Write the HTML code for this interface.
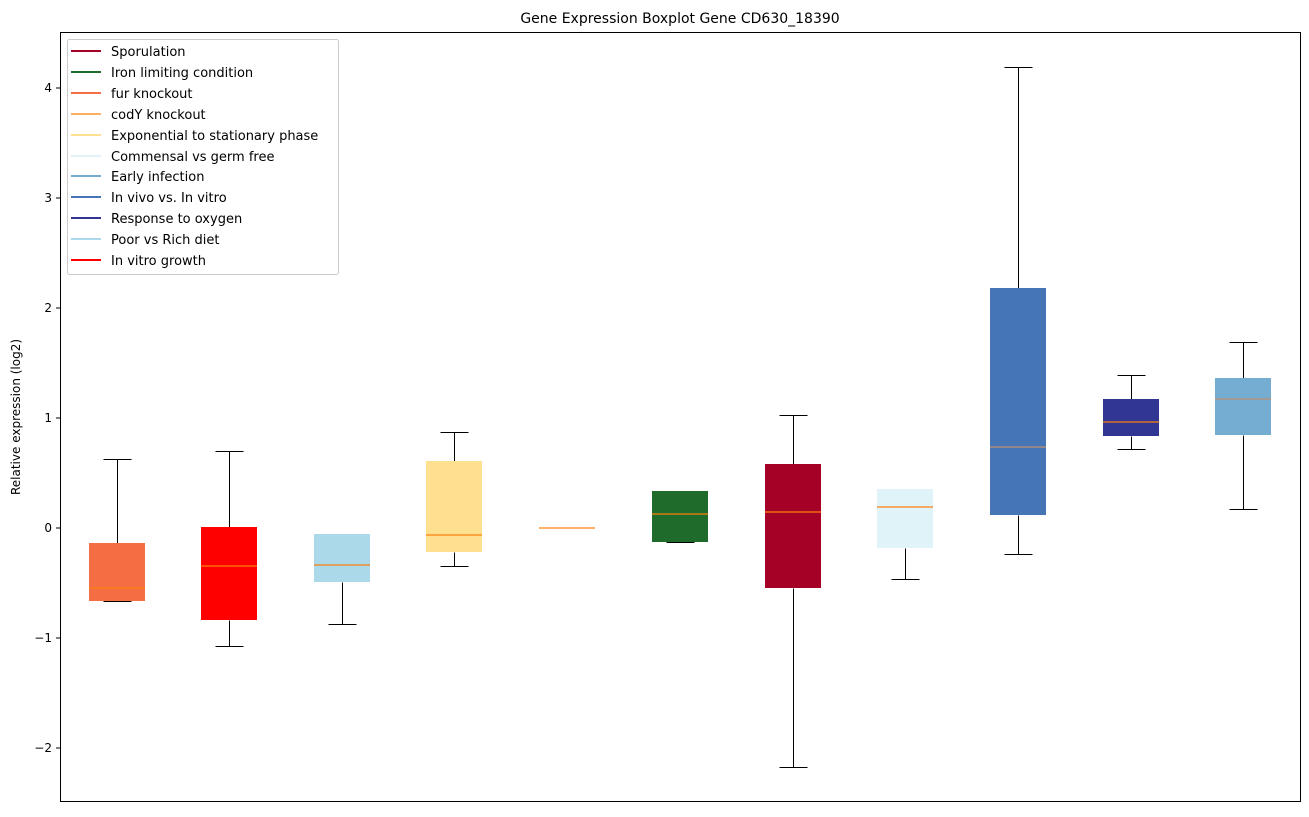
<!DOCTYPE html><html><head><style>body{margin:0;background:#fff}svg text{font-family:"DejaVu Sans","Liberation Sans",sans-serif}</style></head><body>
<svg width="1309" height="812" xmlns="http://www.w3.org/2000/svg">
<rect width="1309" height="812" fill="#fff"/>
<text x="680" y="23" font-size="14" text-anchor="middle">Gene Expression Boxplot Gene CD630_18390</text>
<g font-size="12" text-anchor="end">
<g stroke="#000"><line x1="56" x2="60" y1="88" y2="88"/><line x1="56" x2="60" y1="198" y2="198"/><line x1="56" x2="60" y1="308" y2="308"/><line x1="56" x2="60" y1="418" y2="418"/><line x1="56" x2="60" y1="528" y2="528"/><line x1="56" x2="60" y1="638" y2="638"/><line x1="56" x2="60" y1="748" y2="748"/></g>
<text x="52" y="92">4</text><text x="52" y="202">3</text><text x="52" y="312">2</text><text x="52" y="422">1</text><text x="52" y="532">0</text><text x="52" y="642">−1</text><text x="52" y="752">−2</text>
</g>
<text transform="translate(20,417) rotate(-90)" font-size="12" text-anchor="middle">Relative expression (log2)</text>
<g stroke="#000" stroke-width="1" shape-rendering="crispEdges" transform="translate(0.5,0.5)">
<path d="M117 459V543M103 459H131M103 601H131"/>
<path d="M229 451V527M229 620V646M215 451H243M215 646H243"/>
<path d="M342 582V624M328 534H356M328 624H356"/>
<path d="M454 432V461M454 552V566M440 432H468M440 566H468"/>
<path d="M666 491H694M666 542H694"/>
<path d="M793 415V464M793 588V767M779 415H807M779 767H807"/>
<path d="M905 548V579M891 489H919M891 579H919"/>
<path d="M1018 67V288M1018 515V554M1004 67H1032M1004 554H1032"/>
<path d="M1131 375V399M1131 436V449M1117 375H1145M1117 449H1145"/>
<path d="M1243 342V378M1243 435V509M1229 342H1257M1229 509H1257"/>
</g>
<g stroke="none">
<rect x="89" y="543" width="56" height="58" fill="#f46d43"/>
<rect x="201" y="527" width="56" height="93" fill="#ff0000"/>
<rect x="314" y="534" width="56" height="48" fill="#abd9e9"/>
<rect x="426" y="461" width="56" height="91" fill="#fee090"/>
<rect x="652" y="491" width="56" height="51" fill="#1f6b2b"/>
<rect x="765" y="464" width="56" height="124" fill="#a50026"/>
<rect x="877" y="489" width="56" height="59" fill="#e0f3f8"/>
<rect x="990" y="288" width="56" height="227" fill="#4575b4"/>
<rect x="1103" y="399" width="56" height="37" fill="#313695"/>
<rect x="1215" y="378" width="56" height="57" fill="#74add1"/>
</g>
<g stroke="#ff7f0e" stroke-width="1.2">
<path d="M89 588H145M201 566H257M314 565H370M426 535H482M539 528H595M652 514H708M765 512H821M877 507H933M1103 422H1159"/>
</g>
<g stroke="#c09070" stroke-width="1.2"><path d="M990 447H1046M1215 399H1271"/></g>
<rect x="60.5" y="32.5" width="1240" height="769" fill="none" stroke="#000"/>
<rect x="67.5" y="39.5" width="271" height="235" rx="2" fill="#fff" stroke="#ccc"/>
<g font-size="13" stroke-width="2">
<line x1="71" x2="101" y1="51" y2="51" stroke="#a50026"/><text x="111" y="56">Sporulation</text>
<line x1="71" x2="101" y1="72" y2="72" stroke="#1f6b2b"/><text x="111" y="77">Iron limiting condition</text>
<line x1="71" x2="101" y1="93" y2="93" stroke="#f46d43"/><text x="111" y="98">fur knockout</text>
<line x1="71" x2="101" y1="114" y2="114" stroke="#fdae61"/><text x="111" y="119">codY knockout</text>
<line x1="71" x2="101" y1="135" y2="135" stroke="#fee090"/><text x="111" y="140">Exponential to stationary phase</text>
<line x1="71" x2="101" y1="156" y2="156" stroke="#e0f3f8"/><text x="111" y="161">Commensal vs germ free</text>
<line x1="71" x2="101" y1="176" y2="176" stroke="#74add1"/><text x="111" y="181">Early infection</text>
<line x1="71" x2="101" y1="197" y2="197" stroke="#4575b4"/><text x="111" y="202">In vivo vs. In vitro</text>
<line x1="71" x2="101" y1="218" y2="218" stroke="#313695"/><text x="111" y="223">Response to oxygen</text>
<line x1="71" x2="101" y1="239" y2="239" stroke="#abd9e9"/><text x="111" y="244">Poor vs Rich diet</text>
<line x1="71" x2="101" y1="260" y2="260" stroke="#ff0000"/><text x="111" y="265">In vitro growth</text>
</g>
</svg></body></html>
